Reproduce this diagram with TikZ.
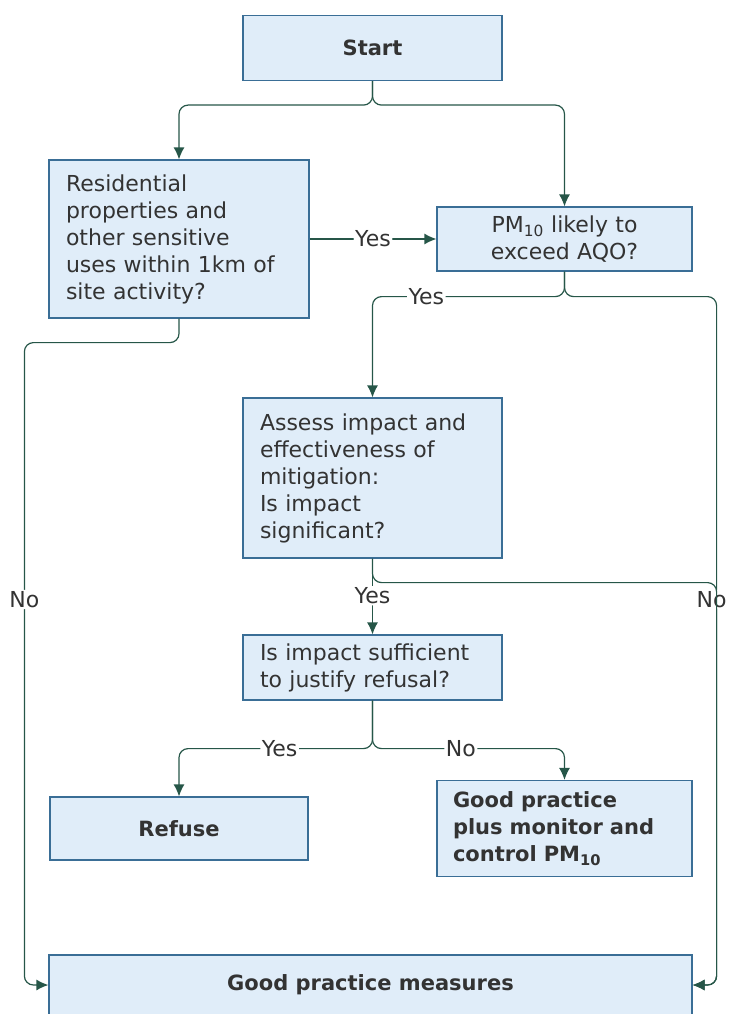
\documentclass[tikz,border=0pt]{standalone}
\usepackage{fontspec}
\setmainfont{DejaVu Sans}
\usetikzlibrary{arrows.meta,calc}
\definecolor{boxfill}{RGB}{224,237,249}
\definecolor{boxline}{RGB}{58,110,150}
\definecolor{flow}{RGB}{38,86,72}

\begin{document}
\begin{tikzpicture}
		[x=1pt,y=-1pt,
		block/.style ={rectangle, draw=boxline, line width=1.2pt, fill=boxfill, text=black!80, inner xsep=17pt, inner ysep=0pt, font=\fontsize{22}{27}\selectfont},
		bblock/.style ={block, font=\fontsize{21}{27}\selectfont\bfseries},
		line/.style ={draw=flow, line width=1.2pt, rounded corners=9pt, -{Latex[length=12pt,width=11pt]}},
		lbl/.style ={fill=white, inner sep=1.5pt, text=black!80, font=\fontsize{22}{27}\selectfont},
		]
		\useasboundingbox (0,0) rectangle (728,1014);

		\draw (372.5,48) node[bblock, minimum width=259, minimum height=65] (Start) {Start};
		\draw (179,239) node[block, minimum width=260, minimum height=158, text width=226, align=left] (Res) {Residential\\properties and\\other sensitive\\uses within 1km of\\site activity?};
		\draw (564.5,239) node[block, minimum width=255, minimum height=64, text width=221, align=center] (PM) {PM\textsubscript{10} likely to\\exceed AQO?};
		\draw (372.5,478) node[block, minimum width=259, minimum height=160, text width=225, align=left] (Assess) {Assess impact and\\effectiveness of\\mitigation:\\Is impact\\significant?};
		\draw (372.5,667.5) node[block, minimum width=259, minimum height=65, text width=225, align=left] (Suff) {Is impact sufficient\\to justify refusal?};
		\draw (179,828.5) node[bblock, minimum width=258, minimum height=63] (Refuse) {Refuse};
		\draw (564.5,828.5) node[bblock, minimum width=255, minimum height=96, inner xsep=16pt, text width=223, align=left] (GP) {Good practice\\plus monitor and\\control PM\textsubscript{10}};
		\draw (370.5,985) node[bblock, minimum width=643, minimum height=60] (Measures) {Good practice measures};

		\path[line] (Start.south) -- ++(0,24) -| (Res.north);
		\path[line] (Start.south) -- ++(0,24) -| (PM.north);
		\path[line] (Res.east) -- node[lbl] {Yes} (PM.west);
		\path[line] (PM.south) -- ++(0,25) -| node[lbl, pos=0.36] {Yes} (Assess.north);
		\path[line] (PM.south) -- ++(0,25) -| node[lbl, pos=0.72, xshift=-5pt] {No} ($(Measures.east)+(24,0)$) -- (Measures.east);
		\path[line] (Res.south) -- ++(0,24) -| node[lbl, pos=0.70] {No} ($(Measures.west)+(-24,0)$) -- (Measures.west);
		\path[line] (Assess.south) -- ++(0,24) -| ($(Measures.east)+(24,0)$) -- (Measures.east);
		\path[line] (Assess.south) -- node[lbl, pos=0.49] {Yes} (Suff.north);
		\path[line] (Suff.south) -- ++(0,48) -| node[lbl, pos=0.24] {Yes} (Refuse.north);
		\path[line] (Suff.south) -- ++(0,48) -| node[lbl, pos=0.23] {No} (GP.north);

	\end{tikzpicture}
\end{document}
